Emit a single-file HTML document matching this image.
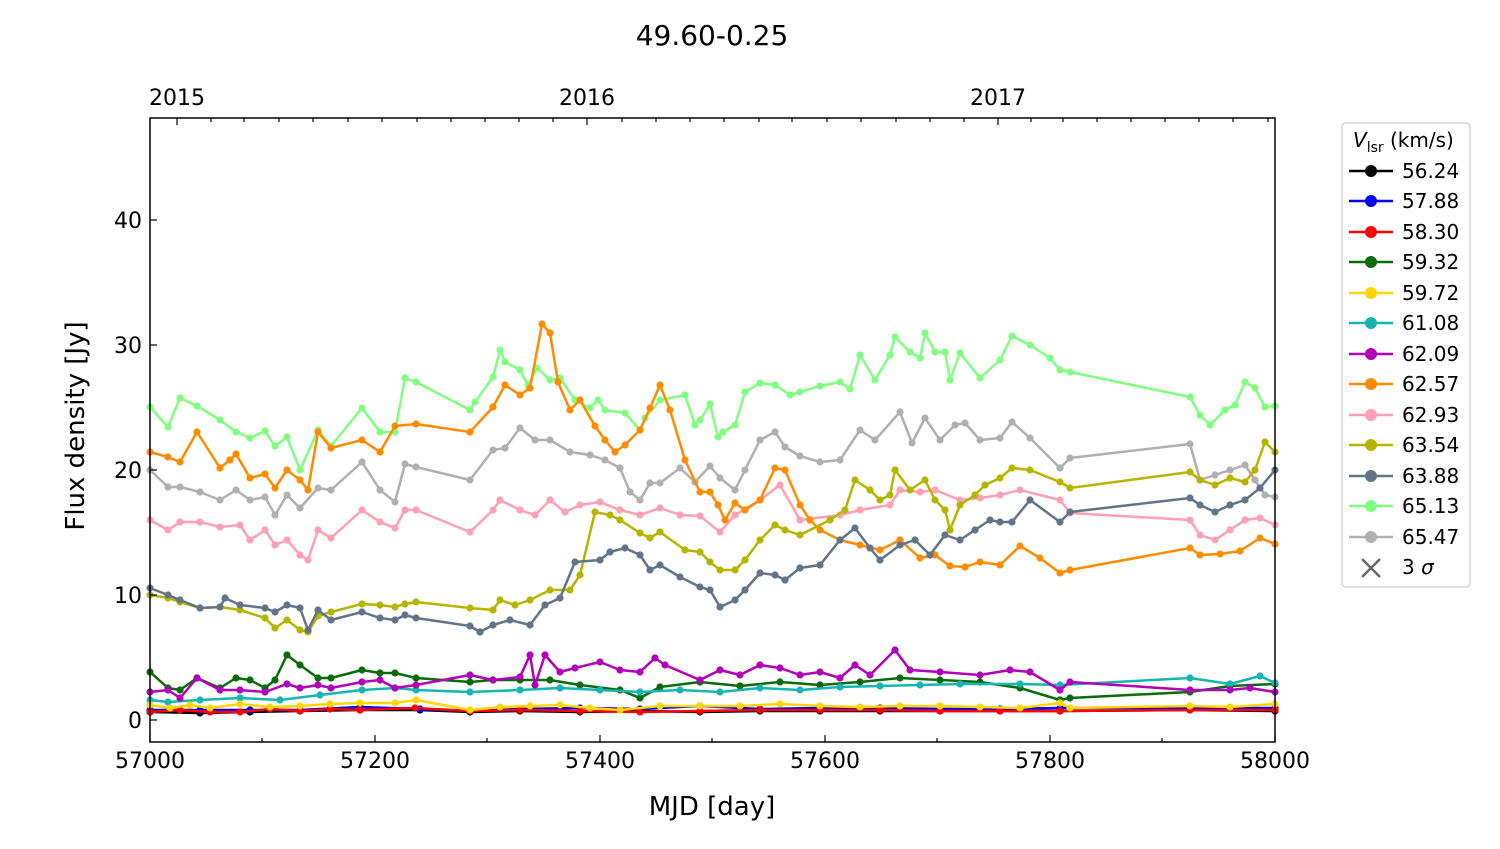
<!DOCTYPE html>
<html><head><meta charset="utf-8"><style>
body{margin:0;background:#fff}
text{font-family:"DejaVu Sans","Liberation Sans",sans-serif;fill:#000}
</style></head><body>
<svg width="1500" height="844" viewBox="0 0 1500 844" xmlns="http://www.w3.org/2000/svg">
<defs>
<marker id="m0" markerWidth="10" markerHeight="10" refX="5" refY="5" markerUnits="userSpaceOnUse"><circle cx="5" cy="5" r="3.6" fill="#000"/></marker>
<marker id="m1" markerWidth="10" markerHeight="10" refX="5" refY="5" markerUnits="userSpaceOnUse"><circle cx="5" cy="5" r="3.6" fill="#0000ff"/></marker>
<marker id="m2" markerWidth="10" markerHeight="10" refX="5" refY="5" markerUnits="userSpaceOnUse"><circle cx="5" cy="5" r="3.6" fill="#ff0000"/></marker>
<marker id="m3" markerWidth="10" markerHeight="10" refX="5" refY="5" markerUnits="userSpaceOnUse"><circle cx="5" cy="5" r="3.6" fill="#0a6b0a"/></marker>
<marker id="m4" markerWidth="10" markerHeight="10" refX="5" refY="5" markerUnits="userSpaceOnUse"><circle cx="5" cy="5" r="3.6" fill="#ffd700"/></marker>
<marker id="m5" markerWidth="10" markerHeight="10" refX="5" refY="5" markerUnits="userSpaceOnUse"><circle cx="5" cy="5" r="3.6" fill="#17b5b0"/></marker>
<marker id="m6" markerWidth="10" markerHeight="10" refX="5" refY="5" markerUnits="userSpaceOnUse"><circle cx="5" cy="5" r="3.6" fill="#b000b8"/></marker>
<marker id="m7" markerWidth="10" markerHeight="10" refX="5" refY="5" markerUnits="userSpaceOnUse"><circle cx="5" cy="5" r="3.6" fill="#ff8c00"/></marker>
<marker id="m8" markerWidth="10" markerHeight="10" refX="5" refY="5" markerUnits="userSpaceOnUse"><circle cx="5" cy="5" r="3.6" fill="#ffa0b4"/></marker>
<marker id="m9" markerWidth="10" markerHeight="10" refX="5" refY="5" markerUnits="userSpaceOnUse"><circle cx="5" cy="5" r="3.6" fill="#b5b500"/></marker>
<marker id="m10" markerWidth="10" markerHeight="10" refX="5" refY="5" markerUnits="userSpaceOnUse"><circle cx="5" cy="5" r="3.6" fill="#627487"/></marker>
<marker id="m11" markerWidth="10" markerHeight="10" refX="5" refY="5" markerUnits="userSpaceOnUse"><circle cx="5" cy="5" r="3.6" fill="#80ff80"/></marker>
<marker id="m12" markerWidth="10" markerHeight="10" refX="5" refY="5" markerUnits="userSpaceOnUse"><circle cx="5" cy="5" r="3.6" fill="#b0b0b0"/></marker>
</defs>
<text x="712" y="45" font-size="28" text-anchor="middle">49.60-0.25</text>
<g fill="none" stroke-width="2.5" stroke-linejoin="round">
<polyline stroke="#80ff80" marker-start="url(#m11)" marker-mid="url(#m11)" marker-end="url(#m11)" points="150,407 168,427 180,398 197,406 220,420 236,432 250,438 265,431 275,446 287,437 300,470 318,430 331,446 362,408 380,432 395,432 405,378 416,382 470,410 475,402 493,377 500,350 505,362 520,370 528,385 537,368 550,380 560,378 575,400 590,408 598,400 605,410 625,413 640,430 645,418 660,400 685,395 695,425 700,420 710,404 718,437 723,432 735,425 745,392 760,383 775,385 790,395 800,392 820,386 840,382 850,389 860,355 875,380 890,355 895,337 910,352 920,358 925,333 935,352 945,352 950,380 960,353 980,378 1000,360 1012,336 1030,345 1050,358 1060,370 1070,372 1190,397 1200,415 1210,425 1225,410 1235,405 1245,382 1255,388 1265,407 1275,406"/>
<polyline stroke="#b0b0b0" marker-start="url(#m12)" marker-mid="url(#m12)" marker-end="url(#m12)" points="150,470 168,487 180,487 200,492 220,500 236,490 250,500 265,497 275,515 287,495 300,508 318,488 331,490 362,462 380,490 395,502 405,464 416,467 470,480 493,450 505,448 520,428 535,440 550,440 570,452 590,455 605,460 620,468 630,492 640,500 650,483 660,483 680,468 695,482 710,466 720,478 735,490 745,470 760,440 775,432 785,447 800,456 820,462 840,460 860,430 875,440 900,412 912,443 925,418 940,440 955,425 965,423 980,440 1000,438 1012,422 1030,438 1060,468 1070,458 1190,444 1200,480 1215,475 1230,470 1245,465 1255,480 1265,495 1275,497"/>
<polyline stroke="#ffa0b4" marker-start="url(#m8)" marker-mid="url(#m8)" marker-end="url(#m8)" points="150,520 168,530 180,522 200,522 220,527 240,525 250,540 265,530 275,545 287,540 300,555 308,560 318,530 331,538 362,510 380,522 395,528 405,510 416,510 470,532 493,510 500,500 520,510 535,515 550,500 565,512 580,505 600,502 620,510 640,515 660,508 680,515 700,516 720,532 735,515 760,500 780,485 800,520 840,515 860,510 890,505 900,490 920,492 935,490 960,500 980,498 1000,495 1020,490 1060,500 1070,513 1190,520 1200,535 1215,540 1230,530 1245,520 1260,518 1275,525"/>
<polyline stroke="#ff8c00" marker-start="url(#m7)" marker-mid="url(#m7)" marker-end="url(#m7)" points="150,452 168,457 180,462 197,432 220,468 230,460 236,454 250,478 265,474 275,488 287,470 300,480 308,490 318,432 331,448 362,440 380,452 395,426 416,424 470,432 493,407 505,385 520,395 530,388 542,324 550,333 558,382 570,410 580,400 595,426 605,440 615,452 625,445 640,430 650,408 660,385 670,410 685,460 700,492 710,492 718,505 725,520 735,503 745,510 760,500 775,468 785,470 800,505 810,520 820,530 840,540 860,545 880,550 900,540 920,558 935,555 950,566 965,567 980,562 1000,565 1020,546 1040,558 1060,573 1070,570 1190,548 1200,555 1220,554 1240,551 1260,538 1275,544"/>
<polyline stroke="#b5b500" marker-start="url(#m9)" marker-mid="url(#m9)" marker-end="url(#m9)" points="150,595 168,598 180,602 200,608 220,607 240,610 265,618 275,628 287,620 300,630 308,632 318,616 331,612 362,604 380,605 395,607 405,604 416,602 470,608 493,610 500,600 515,605 530,600 550,590 570,590 580,575 595,512 610,515 620,520 640,533 650,538 660,532 685,550 700,552 710,562 720,570 735,570 745,560 760,540 775,525 785,530 800,535 830,520 845,510 855,480 870,490 880,500 890,495 895,470 910,490 925,480 935,500 945,510 950,530 960,505 975,495 985,485 1000,478 1012,468 1030,470 1060,482 1070,488 1190,472 1200,480 1215,485 1230,478 1245,482 1255,470 1265,442 1275,452"/>
<polyline stroke="#627487" marker-start="url(#m10)" marker-mid="url(#m10)" marker-end="url(#m10)" points="150,588 168,595 180,600 200,608 220,607 225,598 240,605 265,608 275,612 287,605 300,608 308,630 318,610 331,620 362,612 380,618 395,620 405,615 416,618 470,626 480,632 493,625 510,620 530,625 545,605 560,598 575,562 600,560 610,552 625,548 640,555 650,570 660,565 680,577 700,587 710,590 720,607 735,600 745,590 760,573 775,575 785,580 800,568 820,565 840,540 855,528 870,548 880,560 900,545 915,540 930,555 945,535 960,540 975,530 990,520 1000,522 1012,522 1030,500 1060,522 1070,512 1190,498 1200,505 1215,512 1230,505 1245,500 1260,488 1275,470"/>
<polyline stroke="#0a6b0a" marker-start="url(#m3)" marker-mid="url(#m3)" marker-end="url(#m3)" points="150,672 168,688 180,690 197,678 220,688 236,678 250,680 265,688 275,680 287,655 300,665 318,678 331,678 362,670 380,673 395,673 416,678 470,682 493,680 520,680 550,680 580,685 620,690 640,698 660,687 700,682 740,686 780,682 820,685 860,682 900,678 940,680 980,682 1020,688 1060,700 1070,698 1190,692 1230,686 1275,684"/>
<polyline stroke="#17b5b0" marker-start="url(#m5)" marker-mid="url(#m5)" marker-end="url(#m5)" points="150,700 168,702 200,700 240,698 280,700 320,695 362,690 395,688 416,690 470,692 520,690 560,688 600,690 640,692 680,690 720,692 760,688 800,690 840,687 880,686 920,685 960,684 1020,684 1060,685 1190,678 1230,684 1260,676 1275,683"/>
<polyline stroke="#b000b8" marker-start="url(#m6)" marker-mid="url(#m6)" marker-end="url(#m6)" points="150,692 168,690 180,698 197,678 220,690 240,690 265,692 287,684 300,688 318,685 331,688 362,682 380,680 395,688 416,685 470,675 493,680 520,677 530,655 535,685 545,655 560,672 575,668 600,662 620,670 640,672 655,658 665,665 700,680 720,670 740,675 760,665 780,668 800,675 820,672 840,678 855,665 870,675 895,650 910,670 940,672 980,675 1010,670 1030,672 1060,690 1070,682 1190,690 1230,690 1250,688 1275,692"/>
<polyline stroke="#000" marker-start="url(#m0)" marker-mid="url(#m0)" marker-end="url(#m0)" points="150,712 200,713 250,712 300,711 360,710 420,710 470,712 520,711 580,712 640,711 700,712 760,711 820,711 880,711 940,711 1000,711 1060,711 1190,710 1275,711"/>
<polyline stroke="#0000ff" marker-start="url(#m1)" marker-mid="url(#m1)" marker-end="url(#m1)" points="150,710 200,710 250,710 300,710 360,707 420,709 470,711 520,709 580,708 640,709 700,706 760,709 820,708 880,708 940,709 1000,709 1060,708 1190,708 1275,708"/>
<polyline stroke="#ff0000" marker-start="url(#m2)" marker-mid="url(#m2)" marker-end="url(#m2)" points="150,712 180,710 210,712 240,712 270,709 300,711 330,709 360,710 415,708 470,711 520,710 580,711 640,712 700,711 760,710 820,710 880,710 940,711 1000,711 1060,711 1190,710 1275,710"/>
<polyline stroke="#ffd700" marker-start="url(#m4)" marker-mid="url(#m4)" marker-end="url(#m4)" points="150,705 170,708 190,705 210,708 240,704 270,707 300,706 330,704 360,703 395,703 416,700 470,710 500,707 530,706 560,705 590,708 620,710 660,706 700,706 740,706 780,704 820,706 860,707 900,706 940,706 980,707 1020,708 1060,703 1070,708 1190,706 1230,707 1275,704"/>
</g>
<rect x="150" y="118" width="1125" height="624" fill="none" stroke="#000" stroke-width="1.5"/>
<g stroke="#000" stroke-width="1.2">
<line x1="150" y1="742" x2="150" y2="735"/><line x1="375" y1="742" x2="375" y2="735"/><line x1="600" y1="742" x2="600" y2="735"/><line x1="825" y1="742" x2="825" y2="735"/><line x1="1050" y1="742" x2="1050" y2="735"/><line x1="1275" y1="742" x2="1275" y2="735"/>
<line x1="262" y1="742" x2="262" y2="738"/><line x1="487" y1="742" x2="487" y2="738"/><line x1="712" y1="742" x2="712" y2="738"/><line x1="937" y1="742" x2="937" y2="738"/><line x1="1162" y1="742" x2="1162" y2="738"/>
<line x1="150" y1="720" x2="157" y2="720"/><line x1="150" y1="595" x2="157" y2="595"/><line x1="150" y1="470" x2="157" y2="470"/><line x1="150" y1="345" x2="157" y2="345"/><line x1="150" y1="220" x2="157" y2="220"/>
<line x1="177" y1="118" x2="177" y2="125"/><line x1="587" y1="118" x2="587" y2="125"/><line x1="998" y1="118" x2="998" y2="125"/>
<line x1="211" y1="118" x2="211" y2="122"/><line x1="244" y1="118" x2="244" y2="122"/><line x1="279" y1="118" x2="279" y2="122"/><line x1="313" y1="118" x2="313" y2="122"/><line x1="348" y1="118" x2="348" y2="122"/><line x1="382" y1="118" x2="382" y2="122"/><line x1="417" y1="118" x2="417" y2="122"/><line x1="451" y1="118" x2="451" y2="122"/><line x1="485" y1="118" x2="485" y2="122"/><line x1="519" y1="118" x2="519" y2="122"/><line x1="553" y1="118" x2="553" y2="122"/>
<line x1="622" y1="118" x2="622" y2="122"/><line x1="656" y1="118" x2="656" y2="122"/><line x1="690" y1="118" x2="690" y2="122"/><line x1="724" y1="118" x2="724" y2="122"/><line x1="759" y1="118" x2="759" y2="122"/><line x1="792" y1="118" x2="792" y2="122"/><line x1="827" y1="118" x2="827" y2="122"/><line x1="861" y1="118" x2="861" y2="122"/><line x1="896" y1="118" x2="896" y2="122"/><line x1="930" y1="118" x2="930" y2="122"/><line x1="964" y1="118" x2="964" y2="122"/>
<line x1="1031" y1="118" x2="1031" y2="122"/><line x1="1063" y1="118" x2="1063" y2="122"/><line x1="1097" y1="118" x2="1097" y2="122"/><line x1="1131" y1="118" x2="1131" y2="122"/><line x1="1165" y1="118" x2="1165" y2="122"/><line x1="1199" y1="118" x2="1199" y2="122"/><line x1="1233" y1="118" x2="1233" y2="122"/><line x1="1268" y1="118" x2="1268" y2="122"/>
</g>
<g font-size="22" text-anchor="middle">
<text x="150" y="768">57000</text><text x="375" y="768">57200</text><text x="600" y="768">57400</text><text x="825" y="768">57600</text><text x="1050" y="768">57800</text><text x="1275" y="768">58000</text>
<text x="177" y="105">2015</text><text x="587" y="105">2016</text><text x="998" y="105">2017</text>
</g>
<g font-size="22" text-anchor="end">
<text x="142" y="728">0</text><text x="142" y="603">10</text><text x="142" y="478">20</text><text x="142" y="353">30</text><text x="142" y="228">40</text>
</g>
<text x="712" y="815" font-size="26" text-anchor="middle">MJD [day]</text>
<text transform="translate(84,426) rotate(-90)" font-size="26" text-anchor="middle">Flux density [Jy]</text>
<rect x="1342" y="123" width="128" height="464" rx="4" fill="#fff" stroke="#ccc" stroke-width="1.2"/>
<text x="1353" y="147" font-size="20"><tspan font-style="italic">V</tspan><tspan font-size="14" dy="5">lsr</tspan><tspan dy="-5"> (km/s)</tspan></text>
<g font-size="20" stroke-width="2.5">
<line x1="1349" y1="171" x2="1393" y2="171" stroke="#000"/><circle cx="1371" cy="171" r="6" fill="#000"/><text x="1402" y="178">56.24</text>
<line x1="1349" y1="201" x2="1393" y2="201" stroke="#0000ff"/><circle cx="1371" cy="201" r="6" fill="#0000ff"/><text x="1402" y="208">57.88</text>
<line x1="1349" y1="232" x2="1393" y2="232" stroke="#ff0000"/><circle cx="1371" cy="232" r="6" fill="#ff0000"/><text x="1402" y="239">58.30</text>
<line x1="1349" y1="262" x2="1393" y2="262" stroke="#0a6b0a"/><circle cx="1371" cy="262" r="6" fill="#0a6b0a"/><text x="1402" y="269">59.32</text>
<line x1="1349" y1="293" x2="1393" y2="293" stroke="#ffd700"/><circle cx="1371" cy="293" r="6" fill="#ffd700"/><text x="1402" y="300">59.72</text>
<line x1="1349" y1="323" x2="1393" y2="323" stroke="#17b5b0"/><circle cx="1371" cy="323" r="6" fill="#17b5b0"/><text x="1402" y="330">61.08</text>
<line x1="1349" y1="354" x2="1393" y2="354" stroke="#b000b8"/><circle cx="1371" cy="354" r="6" fill="#b000b8"/><text x="1402" y="361">62.09</text>
<line x1="1349" y1="384" x2="1393" y2="384" stroke="#ff8c00"/><circle cx="1371" cy="384" r="6" fill="#ff8c00"/><text x="1402" y="391">62.57</text>
<line x1="1349" y1="415" x2="1393" y2="415" stroke="#ffa0b4"/><circle cx="1371" cy="415" r="6" fill="#ffa0b4"/><text x="1402" y="422">62.93</text>
<line x1="1349" y1="445" x2="1393" y2="445" stroke="#b5b500"/><circle cx="1371" cy="445" r="6" fill="#b5b500"/><text x="1402" y="452">63.54</text>
<line x1="1349" y1="476" x2="1393" y2="476" stroke="#627487"/><circle cx="1371" cy="476" r="6" fill="#627487"/><text x="1402" y="483">63.88</text>
<line x1="1349" y1="506" x2="1393" y2="506" stroke="#80ff80"/><circle cx="1371" cy="506" r="6" fill="#80ff80"/><text x="1402" y="513">65.13</text>
<line x1="1349" y1="537" x2="1393" y2="537" stroke="#b0b0b0"/><circle cx="1371" cy="537" r="6" fill="#b0b0b0"/><text x="1402" y="544">65.47</text>
<line x1="1362" y1="559" x2="1380" y2="577" stroke="#666"/><line x1="1380" y1="559" x2="1362" y2="577" stroke="#666"/><text x="1402" y="574">3 <tspan font-style="italic">σ</tspan></text>
</g>
</svg>
</body></html>
